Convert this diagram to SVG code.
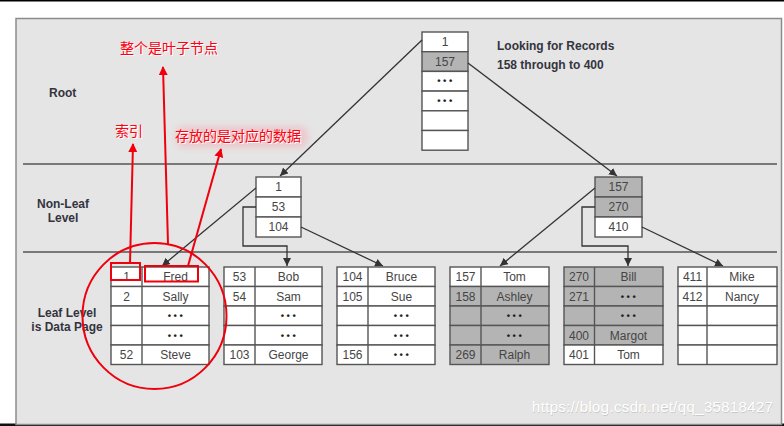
<svg xmlns="http://www.w3.org/2000/svg" width="784" height="426" viewBox="0 0 784 426">
<defs>
<style>
.t{font-family:"Liberation Sans",Arial,sans-serif;font-size:12px;fill:#454545;text-anchor:middle}
.d{font-family:"Liberation Sans",Arial,sans-serif;font-size:9.5px;fill:#1e1e1e;text-anchor:middle;letter-spacing:2.5px;font-weight:bold}
.b{font-family:"Liberation Sans",Arial,sans-serif;font-size:12px;font-weight:bold;fill:#34343e}
.cell{stroke:#555;stroke-width:1.4}
.w{fill:#fff}
.g{fill:#b4b4b4}
.con{fill:none;stroke:#333;stroke-width:1.3}
.red{fill:none;stroke:#f0000c;stroke-width:2}
.cn{font-family:"Noto Sans CJK SC","Noto Sans CJK JP",sans-serif;font-size:14px;fill:#ff0010;stroke:none}
.cnsh{font-family:"Noto Sans CJK SC","Noto Sans CJK JP",sans-serif;font-size:14px;fill:#fff}
.wm{font-family:"Liberation Sans",Arial,sans-serif;font-size:15px;text-anchor:end}
</style>
<marker id="ah" viewBox="0 0 10 10" refX="10" refY="5" markerWidth="8" markerHeight="8" markerUnits="userSpaceOnUse" orient="auto">
<path d="M0,0 L10,5 L0,10 Z" fill="#333"/>
</marker>
<marker id="rh" viewBox="0 0 10 10" refX="9" refY="5" markerWidth="9" markerHeight="11" markerUnits="userSpaceOnUse" orient="auto">
<path d="M0,0 L10,5 L0,10 Z" fill="#f0000c"/>
</marker>
<filter id="blur" x="-20%" y="-50%" width="140%" height="200%"><feGaussianBlur stdDeviation="3"/></filter>
</defs>
<rect x="0" y="0" width="784" height="426" fill="#fff"/>
<rect x="0" y="0" width="784" height="1.5" fill="#000"/>
<rect x="0" y="423.5" width="784" height="2.5" fill="#111"/>
<g id="panel">
<rect x="16" y="18.5" width="765.5" height="406" fill="#e5e5e5" stroke="#8c8c8c" stroke-width="1.5"/>
<line x1="23" y1="164" x2="777" y2="164" stroke="#555" stroke-width="1.4"/>
<line x1="23" y1="252" x2="777" y2="252" stroke="#555" stroke-width="1.4"/>
</g>
<g id="labels">
<text class="b" x="49" y="97">Root</text>
<text class="b" x="63" y="208" text-anchor="middle">Non-Leaf</text>
<text class="b" x="63" y="222" text-anchor="middle">Level</text>
<text class="b" x="67" y="317" text-anchor="middle">Leaf Level</text>
<text class="b" x="67" y="331" text-anchor="middle">is Data Page</text>
<text class="b" x="497" y="50">Looking for Records</text>
<text class="b" x="497" y="69">158 through to 400</text>
</g>
<g id="root">
<rect class="cell w" x="422" y="32" width="46" height="19.7"/>
<rect class="cell g" x="422" y="51.7" width="46" height="19.7"/>
<rect class="cell w" x="422" y="71.4" width="46" height="19.7"/>
<rect class="cell w" x="422" y="91.1" width="46" height="19.7"/>
<rect class="cell w" x="422" y="110.8" width="46" height="19.7"/>
<rect class="cell w" x="422" y="130.5" width="46" height="19.7"/>
<text class="t" x="445" y="46">1</text>
<text class="t" x="445" y="66">157</text>
<text class="d" x="446" y="84">•••</text>
<text class="d" x="446" y="104">•••</text>
</g>
<g id="nonleaf1">
<rect class="cell w" x="256" y="177" width="45" height="20"/>
<rect class="cell w" x="256" y="197" width="45" height="20"/>
<rect class="cell w" x="256" y="217" width="45" height="20"/>
<text class="t" x="278.5" y="191">1</text>
<text class="t" x="278.5" y="211">53</text>
<text class="t" x="278.5" y="231">104</text>
</g>
<g id="nonleaf2">
<rect class="cell g" x="595" y="177" width="47" height="20"/>
<rect class="cell g" x="595" y="197" width="47" height="20"/>
<rect class="cell w" x="595" y="217" width="47" height="20"/>
<text class="t" x="618.5" y="191">157</text>
<text class="t" x="618.5" y="211">270</text>
<text class="t" x="618.5" y="231">410</text>
</g>
<g id="leaf1">
<rect class="cell w" x="111" y="267" width="98" height="19.5"/>
<rect class="cell w" x="111" y="286.5" width="98" height="19.5"/>
<rect class="cell w" x="111" y="306" width="98" height="19.5"/>
<rect class="cell w" x="111" y="325.5" width="98" height="19.5"/>
<rect class="cell w" x="111" y="345" width="98" height="19.5"/>
<line class="cell" x1="142" y1="267" x2="142" y2="364.5"/>
<text class="t" x="126.5" y="281">1</text><text class="t" x="175.5" y="281">Fred</text>
<text class="t" x="126.5" y="300.5">2</text><text class="t" x="175.5" y="300.5">Sally</text>
<text class="d" x="176.5" y="319">•••</text>
<text class="d" x="176.5" y="338.5">•••</text>
<text class="t" x="126.5" y="359">52</text><text class="t" x="175.5" y="359">Steve</text>
</g>
<g id="leaf2">
<rect class="cell w" x="224" y="267" width="98" height="19.5"/>
<rect class="cell w" x="224" y="286.5" width="98" height="19.5"/>
<rect class="cell w" x="224" y="306" width="98" height="19.5"/>
<rect class="cell w" x="224" y="325.5" width="98" height="19.5"/>
<rect class="cell w" x="224" y="345" width="98" height="19.5"/>
<line class="cell" x1="255" y1="267" x2="255" y2="364.5"/>
<text class="t" x="239.5" y="281">53</text><text class="t" x="288.5" y="281">Bob</text>
<text class="t" x="239.5" y="300.5">54</text><text class="t" x="288.5" y="300.5">Sam</text>
<text class="d" x="289.5" y="319">•••</text>
<text class="d" x="289.5" y="338.5">•••</text>
<text class="t" x="239.5" y="359">103</text><text class="t" x="288.5" y="359">George</text>
</g>
<g id="leaf3">
<rect class="cell w" x="337" y="267" width="98" height="19.5"/>
<rect class="cell w" x="337" y="286.5" width="98" height="19.5"/>
<rect class="cell w" x="337" y="306" width="98" height="19.5"/>
<rect class="cell w" x="337" y="325.5" width="98" height="19.5"/>
<rect class="cell w" x="337" y="345" width="98" height="19.5"/>
<line class="cell" x1="368" y1="267" x2="368" y2="364.5"/>
<text class="t" x="352.5" y="281">104</text><text class="t" x="401.5" y="281">Bruce</text>
<text class="t" x="352.5" y="300.5">105</text><text class="t" x="401.5" y="300.5">Sue</text>
<text class="d" x="402.5" y="319">•••</text>
<text class="d" x="402.5" y="338.5">•••</text>
<text class="t" x="352.5" y="359">156</text><text class="d" x="402.5" y="358">•••</text>
</g>
<g id="leaf4">
<rect class="cell w" x="450" y="267" width="99" height="19.5"/>
<rect class="cell g" x="450" y="286.5" width="99" height="19.5"/>
<rect class="cell g" x="450" y="306" width="99" height="19.5"/>
<rect class="cell g" x="450" y="325.5" width="99" height="19.5"/>
<rect class="cell g" x="450" y="345" width="99" height="19.5"/>
<line class="cell" x1="481" y1="267" x2="481" y2="364.5"/>
<text class="t" x="465.5" y="281">157</text><text class="t" x="514.5" y="281">Tom</text>
<text class="t" x="465.5" y="300.5">158</text><text class="t" x="514.5" y="300.5">Ashley</text>
<text class="d" x="515.5" y="319">•••</text>
<text class="d" x="515.5" y="338.5">•••</text>
<text class="t" x="465.5" y="359">269</text><text class="t" x="514.5" y="359">Ralph</text>
</g>
<g id="leaf5">
<rect class="cell g" x="564" y="267" width="99" height="19.5"/>
<rect class="cell g" x="564" y="286.5" width="99" height="19.5"/>
<rect class="cell g" x="564" y="306" width="99" height="19.5"/>
<rect class="cell g" x="564" y="325.5" width="99" height="19.5"/>
<rect class="cell w" x="564" y="345" width="99" height="19.5"/>
<line class="cell" x1="594.5" y1="267" x2="594.5" y2="364.5"/>
<text class="t" x="579" y="281">270</text><text class="t" x="628.5" y="281">Bill</text>
<text class="t" x="579" y="300.5">271</text><text class="d" x="629.5" y="299.5">•••</text>
<text class="d" x="629.5" y="319">•••</text>
<text class="t" x="579" y="340">400</text><text class="t" x="628.5" y="340">Margot</text>
<text class="t" x="579" y="359">401</text><text class="t" x="628.5" y="359">Tom</text>
</g>
<g id="leaf6">
<rect class="cell w" x="678" y="267" width="99" height="19.5"/>
<rect class="cell w" x="678" y="286.5" width="99" height="19.5"/>
<rect class="cell w" x="678" y="306" width="99" height="19.5"/>
<rect class="cell w" x="678" y="325.5" width="99" height="19.5"/>
<rect class="cell w" x="678" y="345" width="99" height="19.5"/>
<line class="cell" x1="707" y1="267" x2="707" y2="364.5"/>
<text class="t" x="692.5" y="281">411</text><text class="t" x="742" y="281">Mike</text>
<text class="t" x="692.5" y="300.5">412</text><text class="t" x="742" y="300.5">Nancy</text>
</g>
<g id="connectors">
<path class="con" d="M422,40 L280,176" marker-end="url(#ah)"/>
<path class="con" d="M468,63 L617,176" marker-end="url(#ah)"/>
<path class="con" d="M256,188 L162,266" marker-end="url(#ah)"/>
<path class="con" d="M256,207 H243 V246 H287 V266" marker-end="url(#ah)"/>
<path class="con" d="M301,227 L383,266" marker-end="url(#ah)"/>
<path class="con" d="M595,188 L500,266" marker-end="url(#ah)"/>
<path class="con" d="M595,207 H582 V246 H628 V266" marker-end="url(#ah)"/>
<path class="con" d="M642,227 L723,266" marker-end="url(#ah)"/>
</g>
<g id="annotations">
<rect x="176" y="126" width="132" height="22" rx="8" fill="#f2a8b0" opacity="0.45" filter="url(#blur)"/>
<text class="cnsh" x="121" y="54">整个是叶子节点</text>
<text class="cn" x="120" y="53">整个是叶子节点</text>
<text class="cnsh" x="116" y="137">索引</text>
<text class="cn" x="115" y="136">索引</text>
<text class="cnsh" x="176" y="142">存放的是对应的数据</text>
<text class="cn" x="175" y="141">存放的是对应的数据</text>
<path class="red" d="M168,244 L163,67" marker-end="url(#rh)"/>
<path class="red" d="M130,263 L133,144" marker-end="url(#rh)"/>
<path class="red" d="M188,266 L221,149" marker-end="url(#rh)"/>
<rect class="red" x="111" y="263" width="29" height="17"/>
<rect class="red" x="145" y="266" width="53" height="15.5"/>
<ellipse class="red" cx="154.5" cy="316" rx="72" ry="73"/>
</g>
<g id="watermark">
<text class="wm" x="773.5" y="412.5" fill="#bdbdbd" opacity="0.7" textLength="241">https://blog.csdn.net/qq_35818427</text>
<text class="wm" x="773" y="412" fill="#ffffff" textLength="241">https://blog.csdn.net/qq_35818427</text>
</g>
</svg>
